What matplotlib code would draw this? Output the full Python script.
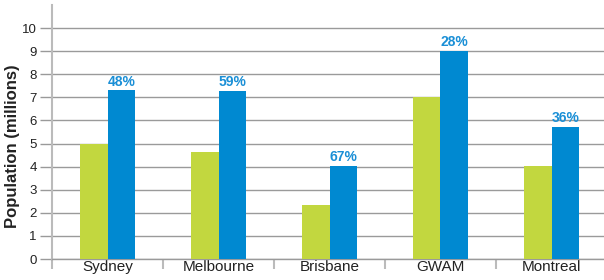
import matplotlib.pyplot as plt
import numpy as np

cities = ["Sydney", "Melbourne", "Brisbane", "GWAM", "Montreal"]
pop_now = [5.0, 4.63, 2.34, 7.0, 4.03]
pop_future = [7.3, 7.27, 4.03, 9.0, 5.71]
growth = ["48%", "59%", "67%", "28%", "36%"]
y_ticks = list(range(0, 11))

GREEN = "#c2d73f"
BLUE = "#0089d1"
GRID = "#9a9a9a"

plt.rcParams["font.family"] = ["Liberation Sans", "DejaVu Sans"]

fig = plt.figure(figsize=(6.04, 2.8), dpi=100)
ax = fig.add_axes([52 / 604, 21 / 280, 555 / 604, 254 / 280])

x = np.arange(len(cities))
w = 0.25
ax.bar(x - w / 2, pop_now, width=w, color=GREEN, zorder=3)
bars = ax.bar(x + w / 2, pop_future, width=w, color=BLUE, zorder=3)
for b, label in zip(bars, growth):
    ax.text(b.get_x() + b.get_width() / 2, b.get_height() + 0.08, label,
            ha="center", va="bottom", color="#1a8fd6", fontsize=10, fontweight="bold")

ax.set_xlim(-0.5, len(cities) - 0.5)
ax.set_ylim(0, 11)
ax.set_yticks(y_ticks)
ax.tick_params(axis="y", length=9, color=GRID, width=1, pad=2, labelsize=9.5, labelcolor="#222222")
ax.yaxis.grid(True, color=GRID, linewidth=1, zorder=0)

ax.set_xticks(np.arange(-0.5, len(cities), 1.0))
ax.set_xticklabels([])
ax.set_xticks(x, minor=True)
ax.set_xticklabels(cities, minor=True, fontsize=11, color="#222222")
ax.tick_params(axis="x", which="major", length=7, color="#bbbbbb", width=1.5)
ax.tick_params(axis="x", which="minor", length=0, pad=1)

for s in ["top", "right"]:
    ax.spines[s].set_visible(False)
ax.spines["left"].set_color("#bbbbbb")
ax.spines["left"].set_linewidth(1.5)
ax.spines["bottom"].set_color(GRID)
ax.spines["bottom"].set_linewidth(1)

ax.set_ylabel("Population (millions)", fontsize=12, fontweight="bold", color="#222222")
ax.yaxis.set_label_coords(-0.058, 0.445)

fig.savefig("out.png", dpi=100)
